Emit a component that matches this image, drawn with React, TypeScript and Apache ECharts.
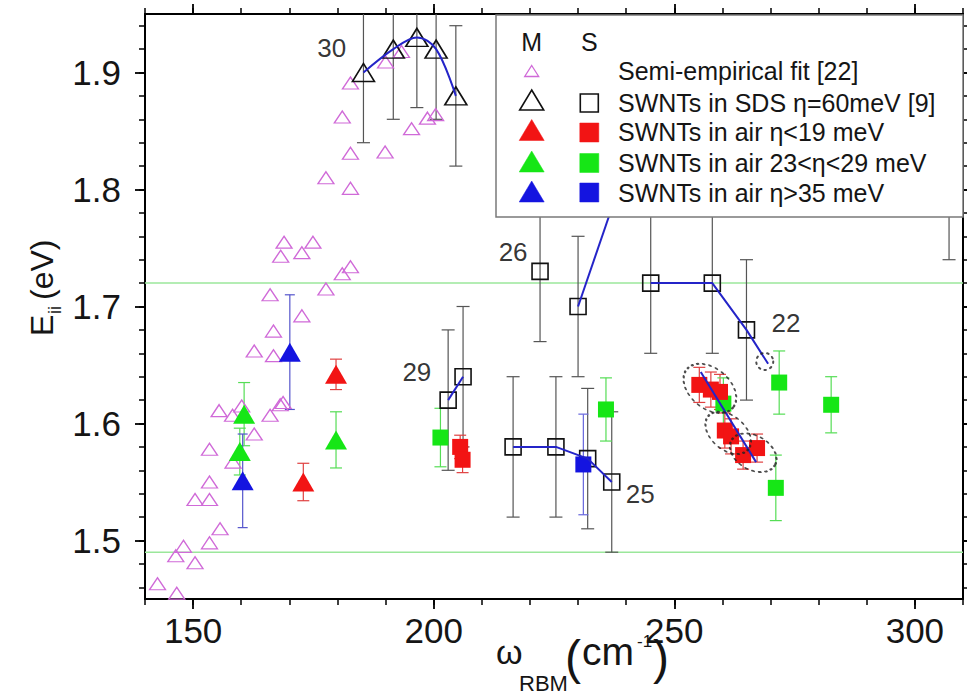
import React, { useEffect, useRef } from 'react';
import * as echarts from 'echarts';

const FONT = '"Liberation Sans", Arial, sans-serif';

const X_MIN = 140;
const X_MAX = 310;
const Y_MIN = 1.45;
const Y_MAX = 1.95;
const xMajorTicks = [150, 200, 250, 300];
const xMinorTicks = [140, 150, 160, 170, 180, 190, 200, 210, 220, 230, 240, 250, 260, 270, 280, 290, 300, 310];
const yMajorTicks = [1.5, 1.6, 1.7, 1.8, 1.9];
const yMinorTicks = [1.46, 1.48, 1.5, 1.52, 1.54, 1.56, 1.58, 1.6, 1.62, 1.64, 1.66, 1.68, 1.7, 1.72, 1.74, 1.76, 1.78, 1.8, 1.82, 1.84, 1.86, 1.88, 1.9, 1.92, 1.94];
const guideLevels = [1.72, 1.49];

// Semi-empirical fit [22] (open magenta triangles)
const semiEmpirical = [
  [182.7, 1.891], [181.0, 1.862], [182.7, 1.831], [189.9, 1.832], [190.0, 1.909], [193.3, 1.918],
  [195.4, 1.852], [198.7, 1.861], [200.4, 1.864], [177.6, 1.81], [182.7, 1.801], [168.9, 1.755],
  [174.9, 1.755], [172.6, 1.746], [168.2, 1.743], [182.7, 1.734], [181.0, 1.728], [177.6, 1.715],
  [166.0, 1.71], [172.6, 1.692], [166.7, 1.679], [162.7, 1.662], [166.7, 1.658], [168.7, 1.618],
  [168.1, 1.616], [166.0, 1.607], [155.4, 1.611], [158.2, 1.607], [160.1, 1.615], [162.7, 1.591],
  [153.4, 1.578], [158.3, 1.567], [153.4, 1.55], [150.4, 1.535], [153.4, 1.535], [155.6, 1.51],
  [153.4, 1.498], [148.0, 1.495], [146.4, 1.487], [150.4, 1.481], [142.6, 1.463], [146.6, 1.455],
];

// SWNTs in SDS (error +-0.06)
const sdsErr = 0.06;
const sdsMetal = [[185.4, 1.9], [191.6, 1.92], [196.5, 1.93], [200.5, 1.92], [204.6, 1.88]];
const sdsSemi = [
  [203.0, 1.62], [206.1, 1.64], [216.5, 1.58], [225.4, 1.58], [222.1, 1.73], [230.0, 1.7],
  [232.0, 1.57], [237.0, 1.55], [245.1, 1.72], [257.9, 1.72], [265.0, 1.68], [307.1, 1.8],
];

// SWNTs in air: [x, E, error]
const redMetal = [[179.7, 1.642, 0.013], [172.9, 1.55, 0.016]];
const greenMetal = [[160.6, 1.608, 0.027], [159.7, 1.576, 0.02], [179.7, 1.586, 0.024]];
const blueMetal = [[170.1, 1.661, 0.049], [160.3, 1.551, 0.04]];
const redSemi = [
  [205.5, 1.58, 0.01], [206.0, 1.569, 0.011], [255.2, 1.633, 0.015], [257.6, 1.629, 0.015],
  [259.5, 1.627, 0.015], [260.5, 1.594, 0.015], [261.8, 1.589, 0.015], [264.3, 1.573, 0.012],
  [267.2, 1.579, 0.012],
];
const greenSemi = [
  [201.4, 1.588, 0.025], [235.8, 1.612, 0.027], [271.8, 1.635, 0.027], [282.6, 1.616, 0.024],
  [271.1, 1.545, 0.028], [260.2, 1.617, 0.022],
];
const blueSemi = [[231.1, 1.565, 0.043]];

// family connecting lines (2n+m)
const family30 = [[185.4, 1.9], [191.6, 1.92], [196.5, 1.93], [200.5, 1.92], [204.6, 1.88]];
const family29 = [[203.0, 1.62], [206.1, 1.64]];
const family26 = [[230.0, 1.7], [242.5, 1.85]];
const family25 = [[216.5, 1.58], [225.4, 1.58], [232.0, 1.57], [237.0, 1.55]];
const family22 = [[245.1, 1.72], [257.9, 1.72], [265.0, 1.68], [269.5, 1.651]];
const familyAir = [[255.5, 1.644], [267.0, 1.567]];

const familyLabels = ['30', '29', '26', '25', '22'];
const familyLabelPos = [[178.8, 1.921], [196.5, 1.644], [216.5, 1.747], [242.9, 1.54], [273.2, 1.686]];

// dotted rings around air samples
const ringCenters = [[257.4, 1.63], [261.2, 1.592], [266.4, 1.575], [268.8, 1.653]];
const ringShapes = [
  { size: [60, 40], rotate: -40 },
  { size: [52, 34], rotate: -40 },
  { size: [50, 34], rotate: -30 },
  { size: [17, 17], rotate: 0 },
];

const C_PINK = '#d06ad8';
const C_RED = '#f21414';
const C_GREEN = '#16e616';
const C_BLUE = '#1414e0';
const C_LINE = '#2424c8';

function errSeries(data: number[][], err: number | null, color: string, width: number, capW: number) {
  const rows = data.map((d) => {
    const e = err == null ? d[2] : err;
    return [d[0], d[1] - e, d[1] + e];
  });
  return {
    type: 'custom',
    z: 2,
    silent: true,
    data: rows,
    encode: { x: 0, y: 1 },
    renderItem: (_p: any, api: any) => {
      const x = api.value(0);
      const lo = api.value(1);
      const hi = api.value(2);
      const top = api.coord([x, Math.min(hi, Y_MAX)]);
      const bot = api.coord([x, Math.max(lo, Y_MIN)]);
      const st = { stroke: color, lineWidth: width };
      const children: any[] = [
        { type: 'line', shape: { x1: top[0], y1: top[1], x2: bot[0], y2: bot[1] }, style: st },
      ];
      if (hi <= Y_MAX) children.push({ type: 'line', shape: { x1: top[0] - capW / 2, y1: top[1], x2: top[0] + capW / 2, y2: top[1] }, style: st });
      if (lo >= Y_MIN) children.push({ type: 'line', shape: { x1: bot[0] - capW / 2, y1: bot[1], x2: bot[0] + capW / 2, y2: bot[1] }, style: st });
      return { type: 'group', children };
    },
  };
}

function markers(data: number[][], symbol: string, size: any, fill: string, border: string, bw: number) {
  return {
    type: 'scatter',
    z: 3,
    silent: true,
    symbol,
    symbolSize: size,
    data: data.map((d) => [d[0], d[1]]),
    itemStyle: { color: fill, borderColor: border, borderWidth: bw, opacity: 1 },
  };
}

function familyLine(data: number[][], smooth: number) {
  return {
    type: 'line',
    z: 4,
    silent: true,
    data,
    smooth,
    symbol: 'none',
    lineStyle: { color: C_LINE, width: 2 },
  };
}

function tri(cx: number, cy: number, w: number, h: number) {
  return [[cx, cy - h / 2], [cx + w / 2, cy + h / 2], [cx - w / 2, cy + h / 2]];
}

function legendGraphic() {
  const z = 100;
  const t = (text: string, x: number, y: number, align = 'left') => ({
    type: 'text', x, y, z,
    style: { text, fontSize: 25, fontFamily: FONT, fill: '#151515', align, verticalAlign: 'middle' },
  });
  const poly = (pts: number[][], fill: string, stroke: string, lw: number) => ({
    type: 'polygon', z, shape: { points: pts }, style: { fill, stroke, lineWidth: lw },
  });
  const sq = (cx: number, cy: number, s: number, fill: string, stroke: string, lw: number) => ({
    type: 'rect', z, shape: { x: cx - s / 2, y: cy - s / 2, width: s, height: s }, style: { fill, stroke, lineWidth: lw },
  });
  const mx = 531.7;
  const sx = 589.3;
  const tx = 618;
  return [
    { type: 'rect', z, shape: { x: 496, y: 15, width: 467, height: 202 }, style: { fill: '#fff', stroke: '#7a7a7a', lineWidth: 1.5 } },
    t('M', mx, 42, 'center'),
    t('S', sx, 42, 'center'),
    poly(tri(mx, 71, 14, 11), 'none', C_PINK, 1.3),
    t('Semi-empirical fit [22]', tx, 71),
    poly(tri(mx, 100, 24, 20), 'none', '#111', 1.6),
    sq(sx, 103, 18, 'none', '#111', 1.6),
    t('SWNTs in SDS \u03b7=60meV [9]', tx, 103),
    poly(tri(mx, 130, 25, 21), C_RED, C_RED, 0.5),
    sq(sx, 132.5, 19, C_RED, C_RED, 0.5),
    t('SWNTs in air \u03b7<19 meV', tx, 132),
    poly(tri(mx, 161.5, 25, 21), C_GREEN, C_GREEN, 0.5),
    sq(sx, 163, 19, C_GREEN, C_GREEN, 0.5),
    t('SWNTs in air 23<\u03b7<29 meV', tx, 162.5),
    poly(tri(mx, 191.5, 25, 21), C_BLUE, C_BLUE, 0.5),
    sq(sx, 192.5, 19, C_BLUE, C_BLUE, 0.5),
    t('SWNTs in air \u03b7>35 meV', tx, 192.5),
  ];
}

function axisTitles() {
  const base = { fontFamily: FONT, fill: '#151515', verticalAlign: 'middle', align: 'left' };
  return [
    {
      type: 'group', x: 42, y: 336, rotation: Math.PI / 2, z: 100,
      children: [
        { type: 'text', x: 0, y: 0, style: { ...base, text: 'E', fontSize: 32 } },
        { type: 'text', x: 22, y: 13, style: { ...base, text: 'ii', fontSize: 18 } },
        { type: 'text', x: 36, y: 0, style: { ...base, text: '(eV)', fontSize: 32 } },
      ],
    },
    { type: 'text', x: 496, y: 652, z: 100, style: { ...base, text: '\u03c9', fontSize: 34 } },
    { type: 'text', x: 519, y: 683, z: 100, style: { ...base, text: 'RBM', fontSize: 22 } },
    { type: 'text', x: 565, y: 657, z: 100, style: { ...base, text: '(', fontSize: 48 } },
    { type: 'text', x: 582, y: 651, z: 100, style: { ...base, text: 'cm', fontSize: 39 } },
    { type: 'text', x: 637, y: 641, z: 100, style: { ...base, text: '-1', fontSize: 17 } },
    { type: 'text', x: 653, y: 657, z: 100, style: { ...base, text: ')', fontSize: 48 } },
  ];
}

function xAxisPair(position: string, labels: boolean) {
  const common = { type: 'value', min: X_MIN, max: X_MAX, position, splitLine: { show: false } };
  return [
    {
      ...common,
      axisLine: { show: true, lineStyle: { color: '#000', width: 2 } },
      axisTick: { show: true, inside: false, length: 6, customValues: xMinorTicks, lineStyle: { color: '#000', width: 1.5 } },
      axisLabel: { show: false },
    },
    {
      ...common,
      axisLine: { show: false },
      axisTick: { show: true, inside: false, length: 10, customValues: xMajorTicks, lineStyle: { color: '#000', width: 1.8 } },
      axisLabel: labels
        ? { show: true, customValues: xMajorTicks, fontSize: 35, fontFamily: FONT, color: '#151515', margin: 14 }
        : { show: false },
    },
  ];
}

function yAxisPair(position: string, labels: boolean) {
  const common = { type: 'value', min: Y_MIN, max: Y_MAX, position, splitLine: { show: false } };
  return [
    {
      ...common,
      axisLine: { show: true, lineStyle: { color: '#000', width: 2 } },
      axisTick: { show: true, inside: false, length: 6, customValues: yMinorTicks, lineStyle: { color: '#000', width: 1.5 } },
      axisLabel: { show: false },
    },
    {
      ...common,
      axisLine: { show: false },
      axisTick: { show: true, inside: false, length: 10, customValues: yMajorTicks, lineStyle: { color: '#000', width: 1.8 } },
      axisLabel: labels
        ? { show: true, customValues: yMajorTicks, fontSize: 35, fontFamily: FONT, color: '#151515', margin: 24, formatter: (v: number) => v.toFixed(1) }
        : { show: false },
    },
  ];
}

export default function App() {
  const ref = useRef<HTMLDivElement>(null);
  useEffect(() => {
    if (!ref.current) return;
    const chart = echarts.init(ref.current, undefined, { renderer: 'svg' });
    const series: any[] = [
      ...guideLevels.map((lv) => ({
        type: 'line', z: 1, silent: true, symbol: 'none',
        data: [[X_MIN, lv], [X_MAX, lv]],
        lineStyle: { color: '#9be79b', width: 1.5 },
      })),
      errSeries(sdsMetal, sdsErr, '#555', 1.2, 13),
      errSeries(sdsSemi, sdsErr, '#555', 1.2, 13),
      errSeries(redMetal, null, '#e04040', 1.2, 12),
      errSeries(greenMetal, null, '#55dd55', 1.2, 12),
      errSeries(blueMetal, null, '#5555cc', 1.2, 10),
      errSeries(redSemi, null, '#e04040', 1.2, 12),
      errSeries(greenSemi, null, '#55dd55', 1.2, 12),
      errSeries(blueSemi, null, '#6666dd', 1.2, 10),
      markers(semiEmpirical, 'triangle', [16, 12], 'rgba(0,0,0,0)', C_PINK, 1.3),
      markers(sdsMetal, 'triangle', [22, 18], 'rgba(0,0,0,0)', '#111', 1.6),
      markers(sdsSemi, 'rect', 16, 'rgba(0,0,0,0)', '#111', 1.6),
      markers(greenMetal, 'triangle', [22, 19], C_GREEN, C_GREEN, 0),
      markers(redMetal, 'triangle', [22, 19], C_RED, C_RED, 0),
      markers(blueMetal, 'triangle', [22, 19], C_BLUE, C_BLUE, 0),
      markers(greenSemi, 'rect', 16, C_GREEN, C_GREEN, 0),
      markers(redSemi, 'rect', 16, C_RED, C_RED, 0),
      markers(blueSemi, 'rect', 16, C_BLUE, C_BLUE, 0),
      familyLine(family30, 0.35),
      familyLine(family29, 0),
      familyLine(family26, 0),
      familyLine(family25, 0),
      familyLine(family22, 0),
      familyLine(familyAir, 0),
      {
        type: 'scatter', z: 5, silent: true, symbol: 'circle',
        data: ringCenters.map((c, i) => ({ value: c, symbolSize: ringShapes[i].size, symbolRotate: ringShapes[i].rotate })),
        itemStyle: { color: 'rgba(0,0,0,0)', borderColor: '#222', borderWidth: 2, borderType: [1.5, 4.5], borderCap: 'round' },
      },
      {
        type: 'scatter', z: 6, silent: true, symbolSize: 1,
        itemStyle: { color: 'rgba(0,0,0,0)' },
        data: familyLabels.map((n, i) => ({ name: n, value: familyLabelPos[i] })),
        label: { show: true, position: 'inside', formatter: (p: any) => p.name, fontSize: 26, fontFamily: FONT, color: '#000', textBorderWidth: 0 },
      },
    ];
    chart.setOption({
      animation: false,
      backgroundColor: '#fff',
      grid: { left: 145, right: 4, top: 14, bottom: 101, containLabel: false },
      xAxis: [...xAxisPair('bottom', true), ...xAxisPair('top', false)],
      yAxis: [...yAxisPair('left', true), ...yAxisPair('right', false)],
      series,
      graphic: { elements: [...legendGraphic(), ...axisTitles()] },
    });
    return () => chart.dispose();
  }, []);
  return <div ref={ref} style={{ position: 'fixed', left: 0, top: 0, width: 967, height: 700 }} />;
}
